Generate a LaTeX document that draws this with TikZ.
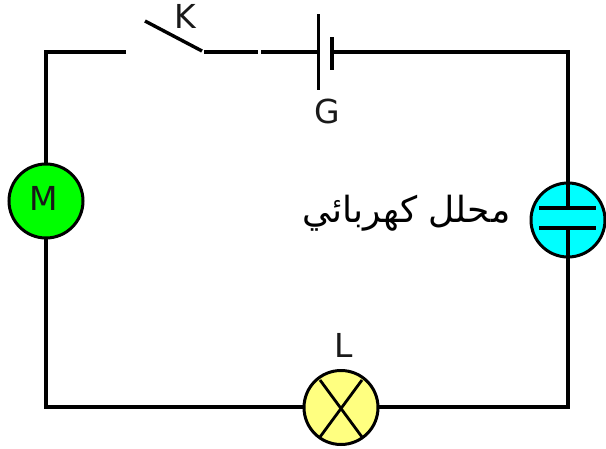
\documentclass[tikz,border=0pt]{standalone}
\usepackage{fontspec}
\setmainfont{DejaVu Sans}
\newfontfamily\arabicfont[Script=Arabic]{DejaVu Sans}
\TeXXeTstate=1
\tikzset{
  wire/.style={draw=black,line width=3.4pt,line cap=butt,line join=miter},
  element/.style={circle,draw=black,line width=3pt,minimum size=74pt,inner sep=0pt,outer sep=0pt},
  lab/.style={inner sep=0pt,font=\fontsize{33}{33}\selectfont,text=black!90}
}
\definecolor{motorgreen}{RGB}{0,255,0}
\definecolor{capcyan}{RGB}{0,255,255}
\definecolor{lampyellow}{RGB}{255,255,128}
\begin{document}
\begin{tikzpicture}[x=1pt,y=-1pt]
\useasboundingbox (0,0) rectangle (606,448);
\coordinate (swl) at (126,52);
\coordinate (swa) at (145,21);
\coordinate (swb) at (202,51);
\coordinate (w1) at (204,52);
\coordinate (w2) at (258,52);
\coordinate (w3) at (261,52);
\coordinate (bl) at (318.5,52);
\coordinate (bs) at (332,52);
\coordinate (cornTL) at (46,52);
\coordinate (cornTR) at (568,52);
\coordinate (cornBL) at (46,407);
\coordinate (cornBR) at (568,407);
\coordinate (pt) at (568,208);
\coordinate (pb) at (568,228);
\node[element,fill=motorgreen] (M) at (46,201) {};
\node[lab] at (44,198) {M};
\node[element,fill=lampyellow] (L) at (341,407.5) {};
\node[element,fill=capcyan] (C) at (568,220) {};
\draw[wire] (swl) -- (cornTL) -- (M.north);
\draw[wire] (M.south) -- (cornBL) -- (L.west |- cornBL);
\draw[wire] (L.east |- cornBR) -- (cornBR) -- (C.south);
\draw[wire] (C.north) -- (cornTR) -- (bs);
\draw[wire] (swa) -- (swb);
\draw[wire] (w1) -- (w2);
\draw[wire] (w3) -- (bl);
\draw[wire] (318.5,14) -- (318.5,90);
\draw[wire] (332,37) -- (332,70);
\draw[wire] (C.north) -- (pt);
\draw[wire] (pb) -- (C.south);
\draw[wire] (539,208) -- (596,208);
\draw[wire] (539,228) -- (596,228);
\draw[wire,line width=2.8pt] (320,380) -- (362,437);
\draw[wire,line width=2.8pt] (362,380) -- (320,437);
\node[lab] at (185,16) {K};
\node[lab] at (327,111) {G};
\node[lab] at (344,345) {L};
\node[inner sep=0pt,font=\arabicfont\fontsize{36}{36}\selectfont] (T) at (406.5,213) {\beginR محلل كهربائي\endR};
\end{tikzpicture}
\end{document}
